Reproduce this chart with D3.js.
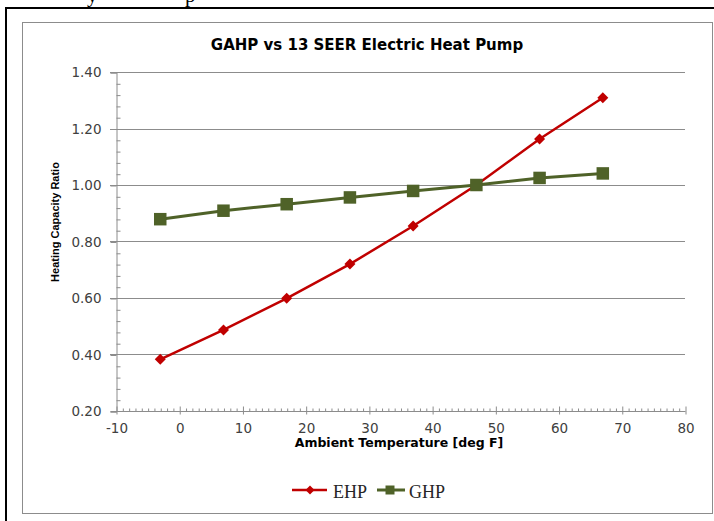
<!DOCTYPE html>
<html>
<head>
<meta charset="utf-8">
<script src="https://cdn.jsdelivr.net/npm/d3@7"></script>
<style>
  html, body { margin: 0; padding: 0; background: #ffffff; }
  svg { display: block; }
</style>
</head>
<body>
<svg id="chart" width="714" height="521"></svg>
<script>
// ---- data ----
const temperatures = [-3, 7, 17, 27, 37, 47, 57, 67];
const ehpValues = [0.383, 0.487, 0.599, 0.720, 0.855, 1.000, 1.163, 1.309];
const ghpValues = [0.879, 0.909, 0.932, 0.956, 0.979, 1.000, 1.025, 1.041];
const seriesNames = ["EHP", "GHP"];
const xTickValues = [-10, 0, 10, 20, 30, 40, 50, 60, 70, 80];
const yTickValues = [0.2, 0.4, 0.6, 0.8, 1.0, 1.2, 1.4];
const chartTitle = "GAHP vs 13 SEER Electric Heat Pump";
const xAxisTitle = "Ambient Temperature [deg F]";
const yAxisTitle = "Heating Capacity Ratio";

// ---- layout ----
const svg = d3.select("#chart");
const plot = { left: 116, right: 685, top: 72, bottom: 411 };
const x = d3.scaleLinear().domain([-10, 80]).range([plot.left, plot.right]);
const y = d3.scaleLinear().domain([0.2, 1.4]).range([plot.bottom, plot.top]);
const gray = "#8c8c8c";
const labelColor = "#404040";
const colors = { EHP: "#c00000", GHP: "#4f6228" };

// partial page text above the chart (cut off in the original screenshot)
svg.append("text").attr("x", 87).attr("y", 2)
  .attr("font-family", "Liberation Serif").attr("font-size", 21).attr("fill", "#000").text("y");
svg.append("text").attr("x", 185).attr("y", 2)
  .attr("font-family", "Liberation Serif").attr("font-size", 21).attr("fill", "#000").text("p");

// outer page frame
svg.append("path").attr("d", "M6,521 V8 H714")
  .attr("fill", "none").attr("stroke", "#000").attr("stroke-width", 2);

// chart area border
svg.append("rect").attr("x", 22.5).attr("y", 22.5).attr("width", 690).attr("height", 491)
  .attr("fill", "#ffffff").attr("stroke", gray).attr("stroke-width", 1);

// title
svg.append("text").attr("x", 367).attr("y", 50).attr("text-anchor", "middle")
  .attr("font-family", "DejaVu Sans").attr("font-weight", "bold").attr("font-size", 15)
  .attr("fill", "#000").text(chartTitle);

// gridlines
svg.append("g").selectAll("line").data(yTickValues.filter(v => v > 0.2)).join("line")
  .attr("x1", plot.left - 6).attr("x2", plot.right)
  .attr("y1", d => Math.round(y(d)) + 0.5).attr("y2", d => Math.round(y(d)) + 0.5)
  .attr("stroke", gray).attr("stroke-width", 1);

// y axis
const yAxis = d3.axisLeft(y).tickValues(yTickValues).tickFormat(d3.format(".2f")).tickSize(6).tickPadding(9);
const gy = svg.append("g").attr("transform", `translate(${plot.left + 0.5},0.5)`).call(yAxis);
gy.select(".domain").attr("stroke", gray);
gy.selectAll(".tick line").attr("stroke", gray);
gy.selectAll(".tick text").attr("font-family", "DejaVu Sans").attr("font-size", 13.5).attr("fill", labelColor);
// y minor ticks (inside)
const yMinor = d3.range(0.2, 1.4001, 0.04).filter(v => Math.abs(v * 5 - Math.round(v * 5)) > 1e-6);
svg.append("g").attr("transform", `translate(${plot.left + 0.5},0.5)`)
  .call(d3.axisRight(y).tickValues(yMinor).tickSize(4).tickFormat(""))
  .call(g => g.select(".domain").remove())
  .selectAll(".tick line").attr("stroke", gray);

// x axis
const xAxis = d3.axisBottom(x).tickValues(xTickValues).tickFormat(d => String(d)).tickSize(4).tickPadding(8);
const gx = svg.append("g").attr("transform", `translate(0.5,${plot.bottom + 0.5})`).call(xAxis);
gx.select(".domain").attr("stroke", gray).attr("d", `M${plot.left - 6},0H${plot.right}`);
gx.selectAll(".tick line").attr("stroke", gray).attr("y1", -5).attr("y2", 3);
gx.selectAll(".tick text").attr("font-family", "DejaVu Sans").attr("font-size", 13.5).attr("fill", labelColor);
// x minor ticks (inside)
const xMinor = d3.range(-10, 81, 1).filter(v => v % 10 !== 0);
svg.append("g").attr("transform", `translate(0.5,${plot.bottom + 0.5})`)
  .call(d3.axisTop(x).tickValues(xMinor).tickSize(3).tickFormat(""))
  .call(g => g.select(".domain").remove())
  .selectAll(".tick line").attr("stroke", gray);

// axis titles
svg.append("text").attr("x", 399).attr("y", 447).attr("text-anchor", "middle")
  .attr("font-family", "DejaVu Sans").attr("font-weight", "bold").attr("font-size", 12.5)
  .attr("fill", "#000").text(xAxisTitle);
svg.append("text").attr("transform", "translate(59,222) rotate(-90)").attr("text-anchor", "middle")
  .attr("font-family", "Liberation Sans").attr("font-weight", "bold").attr("font-size", 11)
  .attr("fill", "#000").text(yAxisTitle);

// series
const series = [
  { name: seriesNames[0], values: ehpValues },
  { name: seriesNames[1], values: ghpValues }
];
const line = d3.line().x(d => x(d[0])).y(d => y(d[1]));
const diamond = r => `M0,${-r}L${r},0L0,${r}L${-r},0Z`;
const square = s => `M${-s / 2},${-s / 2}h${s}v${s}h${-s}Z`;

series.forEach(s => {
  const pts = temperatures.map((t, i) => [t, s.values[i]]);
  const g = svg.append("g");
  g.append("path").attr("d", line(pts)).attr("fill", "none")
    .attr("stroke", colors[s.name]).attr("stroke-width", s.name === "EHP" ? 2.5 : 3);
  g.selectAll("path.m").data(pts).join("path").attr("class", "m")
    .attr("transform", d => `translate(${x(d[0])},${y(d[1])})`)
    .attr("d", s.name === "EHP" ? diamond(5.5) : square(12.5))
    .attr("fill", colors[s.name]);
});

// legend
const legendItems = [
  { name: seriesNames[0], x1: 292, x2: 327, mx: 310, tx: 333 },
  { name: seriesNames[1], x1: 377, x2: 405, mx: 390, tx: 409 }
];
const lg = svg.append("g");
legendItems.forEach(it => {
  lg.append("line").attr("x1", it.x1).attr("x2", it.x2).attr("y1", 490).attr("y2", 490)
    .attr("stroke", colors[it.name]).attr("stroke-width", it.name === "EHP" ? 2.5 : 3);
  lg.append("path").attr("transform", `translate(${it.mx},490)`)
    .attr("d", it.name === "EHP" ? diamond(4.5) : square(9))
    .attr("fill", colors[it.name]);
  lg.append("text").attr("x", it.tx).attr("y", 498)
    .attr("font-family", "Liberation Serif").attr("font-size", 18).attr("fill", "#262626")
    .text(it.name);
});
</script>
</body>
</html>
